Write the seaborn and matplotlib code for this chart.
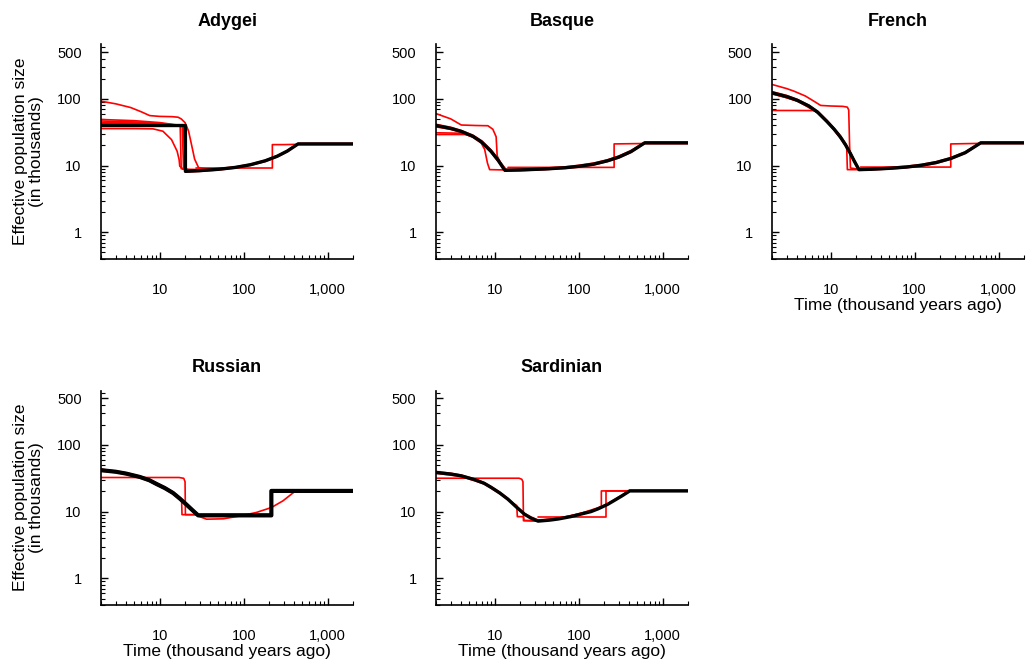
import matplotlib
matplotlib.use("Agg")
import matplotlib.pyplot as plt
import pandas as pd
import seaborn as sns
from matplotlib.ticker import FixedLocator, FixedFormatter, LogLocator, NullFormatter

# ---------------------------------------------------------------------------
# Data: time in thousand years ago, effective population size in thousands.
# "model" = simulated history (black), "est" = replicate inferences (red).
# ---------------------------------------------------------------------------
populations = ["Adygei", "Basque", "French", "Russian", "Sardinian"]

adygei_model_t = [2, 20.2, 20.2, 30, 50, 80, 120, 180, 250, 330, 443, 2000]
adygei_model_ne = [39.8, 39.8, 8.2, 8.4, 8.8, 9.4, 10.3, 11.8, 13.8, 16.5, 21.1, 21.1]
adygei_est_t = [
    [2, 3, 4.5, 6, 7.6, 10, 14, 16.5, 18, 20, 22, 24, 26, 29, 40],
    [2, 5, 10, 15, 17.5, 18, 20, 30],
    [2, 5, 10, 15, 18.5, 19.2, 22, 30],
    [2, 5, 10, 16, 19.5, 20, 25],
    [2, 5, 8.3, 10.9, 13.8, 16.1, 17, 17.3, 18.9, 21],
    [27, 60, 120, 219, 219, 300, 443, 2000],
    [2, 8, 15, 19, 20.6, 30, 50, 80, 120, 180, 250, 330, 443, 2000],
    [20.2, 30, 50, 80, 120, 180, 250, 330, 443, 2000],
]
adygei_est_ne = [
    [92, 84, 74, 64, 56, 54.5, 54, 53, 50, 44, 33, 20, 12.5, 9.3, 8.7],
    [49, 47, 44, 41, 40, 9.0, 8.7, 8.7],
    [46.5, 45, 43, 40.5, 38.5, 9.2, 8.7, 8.6],
    [44, 43.5, 42, 40, 38, 8.6, 8.5],
    [35.8, 35.8, 35.5, 32.7, 24.5, 16.4, 12.3, 9.8, 8.9, 8.7],
    [9.2, 9.2, 9.2, 9.2, 20.6, 20.6, 20.8, 20.8],
    [43, 42, 40.5, 39.5, 8.7, 8.7, 9.0, 9.6, 10.5, 12.0, 14.1, 16.8, 21.5, 21.5],
    [8.0, 8.2, 8.6, 9.2, 10.1, 11.5, 13.5, 16.1, 20.8, 20.8],
]

basque_model_t = [2, 3, 4, 5.5, 7, 9, 11, 13.2, 20, 40, 70, 100, 150, 220, 300, 420, 611, 2000]
basque_model_ne = [39.8, 36, 32.5, 27.5, 22.5, 16.5, 12, 8.5, 8.6, 8.9, 9.3, 9.75, 10.5, 11.8, 13.4, 16.2, 21.9, 21.9]
basque_est_t = [
    [2, 3, 4, 6, 8.3, 9.5, 10.4, 10.7, 11.5, 13.5],
    [2, 4.8, 6, 6.9, 7.6, 8.2, 8.7, 13.2],
    [2, 4, 5.5, 7, 9, 11, 13.2],
    basque_model_t,
    basque_model_t,
    [14.4, 264, 264, 611, 2000],
]
basque_est_ne = [
    [60, 50, 40.5, 39.8, 39.5, 35, 27, 14, 11.5, 8.9],
    [29.2, 29.2, 26, 21.9, 17.4, 10.9, 8.7, 8.6],
    [31, 30.5, 27, 22.5, 16.5, 12, 8.6],
    [41.5, 37.5, 33.5, 28.5, 23.5, 17.3, 12.6, 8.8, 8.9, 9.2, 9.6, 10.1, 10.9, 12.2, 13.9, 16.8, 22.4, 22.4],
    [38, 34.8, 31.5, 26.5, 21.5, 15.8, 11.5, 8.3, 8.4, 8.7, 9.1, 9.5, 10.2, 11.5, 13.0, 15.8, 21.5, 21.5],
    [9.4, 9.4, 21.1, 21.4, 21.4],
]

french_model_t = [2, 3, 4, 5.5, 7, 9, 11, 13, 15, 17, 19, 21.7, 30, 50, 80, 120, 180, 270, 400, 611, 2000]
french_model_ne = [123, 108, 95, 78, 63, 46, 35, 27, 20.5, 15.5, 11.8, 8.7, 8.8, 9.1, 9.5, 10.1, 11.1, 12.8, 15.6, 21.9, 21.9]
french_est_t = [
    [2, 3, 3.66, 5, 6.5, 7.6, 10, 14, 15.8, 16.4, 16.8, 17.2, 21.7],
    [2, 4, 6.6, 9, 11, 13, 15, 17, 19, 21.7],
    [2, 4, 7, 10, 13, 15.5, 15.8, 21.7],
    french_model_t,
    french_model_t,
    [22.7, 269, 269, 611, 2000],
]
french_est_ne = [
    [164, 142, 130, 110, 90, 79.5, 78, 77, 75, 68, 20, 9.2, 8.8],
    [66.8, 66.8, 66.5, 47, 36, 27.5, 21, 16, 12, 8.9],
    [120, 93, 62, 40, 26, 20, 8.7, 8.7],
    [128, 112, 98, 80, 65, 47.5, 36, 28, 21.5, 16.2, 12.3, 9.0, 9.1, 9.4, 9.8, 10.4, 11.4, 13.1, 16, 22.3, 22.3],
    [118, 104, 92, 76, 61, 44.5, 34, 26, 19.8, 15, 11.4, 8.5, 8.6, 8.9, 9.3, 9.9, 10.8, 12.5, 15.3, 21.5, 21.5],
    [9.5, 9.5, 21.1, 21.5, 21.5],
]

russian_model_t = [2, 3, 4, 5.8, 7.5, 9.1, 11.5, 14.4, 17.5, 20.7, 24.5, 28.6, 213, 213, 2000]
russian_model_ne = [41.7, 39.5, 37, 33, 29.5, 26, 22.5, 19, 15.5, 12.8, 10.5, 8.8, 8.8, 20.4, 20.4]
russian_est_t = [
    [2, 10, 17, 19.3, 20, 20.2, 28.6],
    [2, 4, 7.5, 11.5, 14.4, 17.5, 18.2, 18.4, 28.6],
    [28.6, 36, 57, 90, 141, 213, 293, 405, 2000],
    russian_model_t,
    [2, 3, 4, 5.8, 7.5, 9.1, 11.5, 14.4, 17.5, 20.7, 24.5, 28.6, 218, 218, 2000],
]
russian_est_ne = [
    [32.4, 32.4, 32.4, 31.5, 28, 9.0, 9.0],
    [43, 38, 30.5, 23, 19.5, 16, 15, 9.0, 9.0],
    [8.6, 7.7, 7.8, 8.6, 9.7, 11.5, 14.5, 20.0, 20.2],
    [43, 40.5, 38, 34, 30.5, 27, 23.3, 19.7, 16.1, 13.3, 10.9, 9.1, 9.1, 20.8, 20.8],
    [40.5, 38.5, 36, 32, 28.5, 25, 21.7, 18.3, 15, 12.3, 10.1, 8.5, 8.5, 20.1, 20.1],
]

sardinian_model_t = [2, 3, 4, 5.8, 7.5, 9.1, 11.5, 14.4, 18, 22.7, 27, 32.8, 45, 57, 80, 100,
                     140, 170, 220, 268, 330, 405, 2000]
sardinian_model_ne = [38.5, 36.5, 34.3, 30, 26.5, 23, 19, 15.3, 11.8, 9.1, 8.0, 7.2, 7.45, 7.75,
                      8.4, 9.0, 10.0, 11.0, 12.8, 14.8, 17.3, 20.4, 20.4]
sardinian_est_t = [
    [2, 10, 19.5, 21, 21.7, 22, 32.8],
    [2, 4, 7.5, 11.5, 15, 18.3, 18.6, 22, 22.3, 32.8],
    [32.8, 209, 209, 405, 2000],
    [32.8, 57, 100, 170, 186, 186, 405, 2000],
    sardinian_model_t,
]
sardinian_est_ne = [
    [31.6, 31.6, 31.6, 30.5, 28, 7.3, 7.2],
    [37.5, 33.5, 26, 18.5, 14.5, 12.3, 8.4, 8.4, 7.4, 7.3],
    [8.3, 8.3, 20.4, 20.4, 20.4],
    [7.4, 7.9, 9.2, 11.4, 12.0, 20.4, 20.5, 20.5],
    [39.8, 37.5, 35.2, 30.8, 27.2, 23.6, 19.5, 15.7, 12.1, 9.4, 8.3, 7.5, 7.7, 8.0, 8.7, 9.3,
     10.3, 11.3, 13.1, 15.2, 17.8, 20.9, 20.9],
]

x_ticks = [10, 100, 1000]
x_tick_labels = ["10", "100", "1,000"]
y_ticks = [1, 10, 100, 500]
y_tick_labels = ["1", "10", "100", "500"]

series = {
    "Adygei": (adygei_model_t, adygei_model_ne, adygei_est_t, adygei_est_ne),
    "Basque": (basque_model_t, basque_model_ne, basque_est_t, basque_est_ne),
    "French": (french_model_t, french_model_ne, french_est_t, french_est_ne),
    "Russian": (russian_model_t, russian_model_ne, russian_est_t, russian_est_ne),
    "Sardinian": (sardinian_model_t, sardinian_model_ne, sardinian_est_t, sardinian_est_ne),
}

# Long-format table for seaborn
records = []
for pop, (mt, mne, et, ene) in series.items():
    for i, (t, n) in enumerate(zip(mt, mne)):
        records.append((pop, "model", 0, i, t, n))
    for r, (ts, ns) in enumerate(zip(et, ene), start=1):
        for i, (t, n) in enumerate(zip(ts, ns)):
            records.append((pop, "estimate", r, i, t, n))
df = pd.DataFrame(records, columns=["population", "kind", "replicate", "order", "time", "ne"])

# ---------------------------------------------------------------------------
sns.set_theme(style="ticks")
plt.rcParams["font.family"] = ["Liberation Sans", "DejaVu Sans"]
plt.rcParams.update({
    "text.color": "black",
    "axes.labelcolor": "black",
    "axes.titlecolor": "black",
    "xtick.color": "black",
    "ytick.color": "black",
    "xtick.direction": "in",
    "ytick.direction": "in",
})

fig = plt.figure(figsize=(10.29, 6.63), dpi=100)

W, H = 0.2449, 0.3235
lefts = [0.0982, 0.4237, 0.7502]
bottoms = [0.6094, 0.0875]
layout = {
    "Adygei": (0, 0), "Basque": (0, 1), "French": (0, 2),
    "Russian": (1, 0), "Sardinian": (1, 1),
}
black_lw = {"Adygei": 2.4, "Basque": 2.4, "French": 2.4, "Russian": 3.0, "Sardinian": 2.4}

for pop in populations:
    row, col = layout[pop]
    ax = fig.add_axes([lefts[col], bottoms[row], W, H])
    sub = df[df["population"] == pop]
    est = sub[sub["kind"] == "estimate"]
    mod = sub[sub["kind"] == "model"]

    sns.lineplot(data=est, x="time", y="ne", units="replicate", estimator=None,
                 sort=False, color="#ff0000", lw=1.2, ax=ax, legend=False, zorder=2)
    sns.lineplot(data=mod, x="time", y="ne", estimator=None, sort=False,
                 color="black", lw=black_lw[pop], ax=ax, legend=False, zorder=3)

    ax.set_xscale("log")
    ax.set_yscale("log")
    ax.set_xlim(2, 2000)
    ax.set_ylim(0.4, 650)

    ax.xaxis.set_major_locator(FixedLocator(x_ticks))
    ax.xaxis.set_major_formatter(FixedFormatter(x_tick_labels))
    ax.yaxis.set_major_locator(FixedLocator(y_ticks))
    ax.yaxis.set_major_formatter(FixedFormatter(y_tick_labels))
    for axis in (ax.xaxis, ax.yaxis):
        axis.set_minor_locator(LogLocator(base=10, subs=range(2, 10), numticks=20))
        axis.set_minor_formatter(NullFormatter())

    ax.tick_params(axis="both", which="major", direction="in", length=5, width=1,
                   labelsize=10.5, color="black", labelcolor="black")
    ax.tick_params(axis="both", which="minor", direction="in", length=2.6, width=0.8,
                   color="black")
    ax.tick_params(axis="x", which="major", pad=17)
    ax.tick_params(axis="y", which="major", pad=14)

    for side in ("top", "right"):
        ax.spines[side].set_visible(False)
    for side in ("left", "bottom"):
        ax.spines[side].set_linewidth(1.2)
        ax.spines[side].set_color("black")

    ax.set_title(pop, fontsize=13, fontweight="bold", pad=13, color="black")

    if col == 0:
        ax.set_ylabel("Effective population size\n(in thousands)", fontsize=12.5,
                      labelpad=9, linespacing=1.15, color="black")
    else:
        ax.set_ylabel("")
    if pop in ("French", "Russian", "Sardinian"):
        ax.set_xlabel("Time (thousand years ago)", fontsize=12.5, labelpad=1, color="black")
    else:
        ax.set_xlabel("")

fig.savefig("out.png", dpi=100, facecolor="white")
